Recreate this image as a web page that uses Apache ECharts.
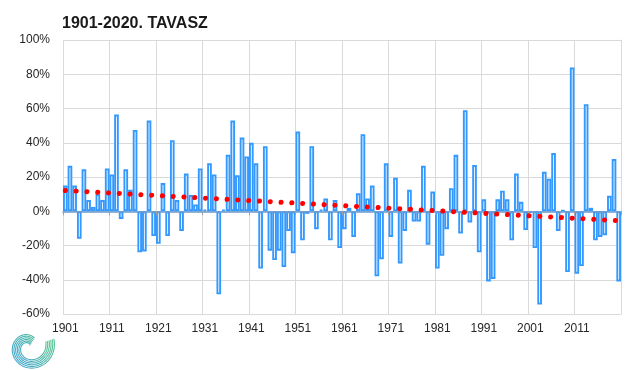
<!DOCTYPE html>
<html><head><meta charset="utf-8">
<script src="https://cdn.jsdelivr.net/npm/echarts@6/dist/echarts.min.js"></script>
<style>html,body{margin:0;padding:0;background:#fff}#c{width:640px;height:370px}</style>
</head><body><div id="c"></div>
<script>
// ---- data ----
const firstYear = 1901;
const lastYear = 2020;
const years = [];
for (let y = firstYear; y <= lastYear; y++) years.push(String(y));

// spring precipitation anomaly (%)
const anomaly1901_1930 = [15, 26.5, 15, -16, 24.5, 6.5, 2.5, 10, 6.5, 25,
  21.5, 56.5, -4.5, 24.5, 12.5, 47.5, -24, -23.5, 53, -14.5,
  -19, 16.5, -14.5, 41.5, 6.5, -11.5, 22, 9.5, 4, 25];
const anomaly1931_1960 = [1, 28, 21.5, -48.5, 1, 33, 53, 21, 43, 32,
  40, 28, -33.5, 38, -23, -28.5, -23, -32.5, -11.5, -24.5,
  46.5, -17, -1.5, 38, -10.5, 1, 7.5, -17, 6.5, -21.5];
const anomaly1961_1990 = [-10.5, 2, -15, 10.5, 45, 7.5, 15, -38, -28, 28,
  -15, 19.5, -30.5, -11.5, 12.5, -6, -6, 26.5, -19.5, 11.5,
  -33.5, -26, -10.5, 13.5, 33, -13, 59, -6.5, 27, -24];
const anomaly1991_2020 = [7, -41, -39.5, 7, 12, 7, -17, 22, 5.5, -11,
  -1, -21.5, -54.5, 23, 19, 34, -11.5, 0.5, -35.5, 84,
  -36.5, -32, 62.5, 2, -17, -15, -14, 9, 30.5, -41];
const anomaly = anomaly1901_1930.concat(anomaly1931_1960, anomaly1961_1990, anomaly1991_2020);

// linear trend end points (%)
const trendStart = 12.1;
const trendEnd = -5.5;

// y axis ticks (%)
const yMin = -60, yMax = 100, yStep = 20;

const titleText = '1901-2020. TAVASZ';

// ---- build ----
const trendData = years.map((y, i) => i === 0 ? trendStart : (i === years.length - 1 ? trendEnd : null));
const FONT = '"Liberation Sans", Arial, sans-serif';

function logo() {
  const cx = 29, cy = 347, els = [];
  for (let i = 0; i < 6; i++) {
    const pts = [];
    for (let t = 0; t <= 1.8 * Math.PI; t += 0.08) {
      const r = 2 + i * 1.7 + 2.8 * t;
      const a = -1.0 - t;
      pts.push([cx + r * Math.cos(a), cy + r * Math.sin(a)]);
    }
    els.push({
      type: 'polyline', silent: true, shape: {points: pts},
      style: {fill: null, lineWidth: 1.1, stroke: {type: 'linear', x: 1, y: 0, x2: 0, y2: 1,
        colorStops: [{offset: 0, color: '#5cc98a'}, {offset: 1, color: '#3f9fd6'}]}}
    });
  }
  return els;
}

const chart = echarts.init(document.getElementById('c'), null, {renderer: 'canvas'});
chart.setOption({
  animation: false,
  backgroundColor: '#fff',
  title: {text: titleText, left: 57, top: 11,
    textStyle: {fontFamily: FONT, fontWeight: 'bold', fontSize: 16, color: '#1a1a1a'}},
  grid: {left: 63, right: 19, top: 40, bottom: 56, containLabel: false},
  xAxis: [
    {type: 'category', data: years, position: 'bottom', boundaryGap: true,
      axisLine: {show: false, onZero: false}, axisTick: {show: false},
      axisLabel: {interval: 9, color: '#262626', fontSize: 12, fontFamily: FONT, margin: 9},
      splitLine: {show: true, interval: 9, lineStyle: {color: '#d9d9d9', width: 1}}},
    {type: 'category', data: years, position: 'top', boundaryGap: true, z: 5,
      axisLine: {show: true, onZero: true, lineStyle: {color: '#6e9bcc', width: 1.5}},
      axisTick: {show: true, interval: 9, inside: true, length: 4, lineStyle: {color: '#a0a0a0'}},
      axisLabel: {show: false}, splitLine: {show: false}}
  ],
  yAxis: [
    {type: 'value', min: yMin, max: yMax, interval: yStep, position: 'left',
      axisLine: {show: false}, axisTick: {show: false},
      axisLabel: {formatter: '{value}%', color: '#262626', fontSize: 12, fontFamily: FONT, margin: 13},
      splitLine: {lineStyle: {color: '#d9d9d9', width: 1}}},
    {type: 'value', min: yMin, max: yMax, interval: yStep, position: 'right',
      axisLine: {show: true, onZero: false, lineStyle: {color: '#d9d9d9', width: 1}},
      axisTick: {show: false}, axisLabel: {show: false}, splitLine: {show: false}}
  ],
  series: [
    {type: 'bar', data: anomaly, xAxisIndex: 0, yAxisIndex: 0, barWidth: '100%', barCategoryGap: 0,
      itemStyle: {color: '#ffffff', borderColor: '#3399ff', borderWidth: 1.9}},
    {type: 'line', data: trendData, xAxisIndex: 0, yAxisIndex: 0, connectNulls: true, symbol: 'none', z: 6,
      lineStyle: {color: '#ff0000', width: 5, type: [0.1, 10.7], cap: 'round'}}
  ],
  graphic: logo()
});
</script></body></html>
